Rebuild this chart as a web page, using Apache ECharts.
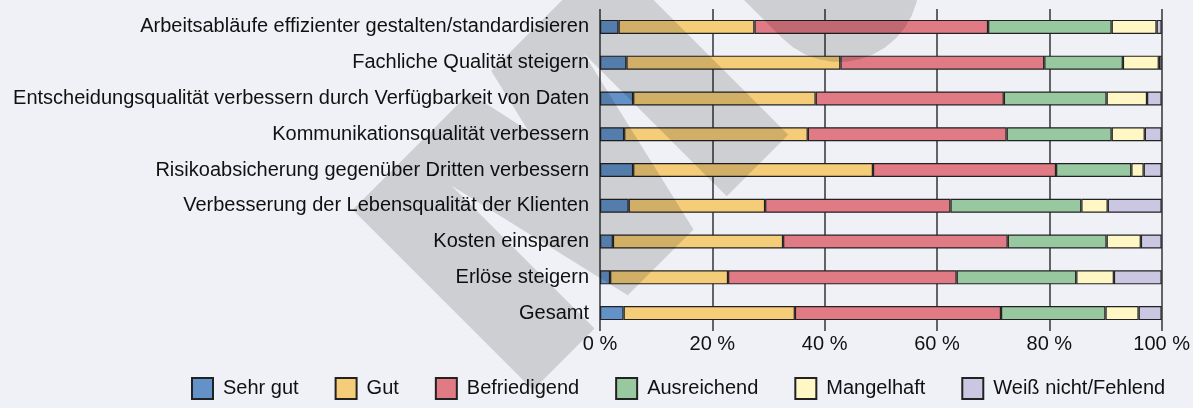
<!DOCTYPE html>
<html>
<head>
<meta charset="utf-8">
<script src="https://cdn.jsdelivr.net/npm/echarts@6/dist/echarts.min.js"></script>
<style>
  html, body { margin: 0; padding: 0; background: #eff1f6; }
  #chart { width: 1193px; height: 408px; }
</style>
</head>
<body>
<div id="chart"></div>
<script>
// Kategorien (von oben nach unten)
const categories = [
  'Arbeitsabläufe effizienter gestalten/standardisieren',
  'Fachliche Qualität steigern',
  'Entscheidungsqualität verbessern durch Verfügbarkeit von Daten',
  'Kommunikationsqualität verbessern',
  'Risikoabsicherung gegenüber Dritten verbessern',
  'Verbesserung der Lebensqualität der Klienten',
  'Kosten einsparen',
  'Erlöse steigern',
  'Gesamt'
];

// Anteile in Prozent, je Bewertung
const sehrGut      = [3.3, 4.7, 5.9, 4.3, 5.9, 5.1, 2.3, 1.8, 4.2];
const gut          = [24.2, 38.1, 32.5, 32.7, 42.7, 24.3, 30.3, 21.0, 30.5];
const befriedigend = [41.6, 36.3, 33.5, 35.4, 32.6, 33.0, 40.0, 40.7, 36.7];
const ausreichend  = [22.0, 14.0, 18.3, 18.7, 13.4, 23.3, 17.6, 21.3, 18.6];
const mangelhaft   = [8.0, 6.4, 7.2, 5.9, 2.2, 4.7, 6.1, 6.7, 5.9];
const weissNicht   = [0.9, 0.5, 2.6, 3.0, 3.2, 9.6, 3.7, 8.5, 4.1];

const seriesNames = ['Sehr gut', 'Gut', 'Befriedigend', 'Ausreichend', 'Mangelhaft', 'Weiß nicht/Fehlend'];
const seriesData = [sehrGut, gut, befriedigend, ausreichend, mangelhaft, weissNicht];
const seriesColors = ['#6292c8', '#f5cc78', '#e07b85', '#97c8a0', '#fff8c4', '#cbc6e1'];

// Achsenbeschriftung
const xTicks = [0, 20, 40, 60, 80, 100];

// Wasserzeichen (grosses, gedrehtes "MU"), Buchstaben-Koordinaten
const wmLetterM = [[0, 0], [87, 0], [87, 202], [134, 0], [227, 0], [274, 202], [274, 0], [361, 0],
  [361, 255], [196, 255], [180, 187], [165, 255], [0, 255]];
function wmLetterU() {
  const pts = [[425, 420], [425, 72]];
  for (let a = 180; a <= 360; a += 10) {
    const r = a * Math.PI / 180;
    pts.push([505 + 80 * Math.cos(r), 72 + 80 * Math.sin(r)]);
  }
  pts.push([585, 420]);
  return pts;
}
// Buchstaben-Koordinaten -> Pixel (um 45 Grad gedreht)
function wmToPx(pts) {
  const k = Math.SQRT1_2;
  return pts.map(p => [533 + k * (p[0] - p[1]), 390 - k * (p[0] + p[1])]);
}

const chart = echarts.init(document.getElementById('chart'));

const fontFamily = '"Liberation Sans", Arial, sans-serif';

const option = {
  backgroundColor: '#eff1f6',
  animation: false,
  textStyle: { fontFamily: fontFamily },
  grid: {
    left: 600,
    right: 29,
    top: 9,
    bottom: 77,
    containLabel: false
  },
  legend: {
    data: seriesNames,
    left: 186,
    top: 372,
    itemWidth: 21,
    itemHeight: 21,
    itemGap: 36,
    icon: 'rect',
    textStyle: {
      fontSize: 20,
      color: '#111',
      padding: [0, 0, 0, 5]
    }
  },
  xAxis: {
    type: 'value',
    min: 0,
    max: 100,
    interval: 20,
    axisLine: { show: false },
    axisTick: { show: false },
    axisLabel: {
      fontSize: 20,
      color: '#111',
      margin: 3,
      formatter: function (v) { return xTicks.indexOf(v) >= 0 ? v + ' %' : ''; }
    },
    splitLine: { show: true, lineStyle: { color: '#333', width: 1.5 } }
  },
  yAxis: {
    type: 'category',
    data: categories,
    inverse: true,
    axisLine: { show: false },
    axisTick: { show: false },
    axisLabel: { fontSize: 20, color: '#111', margin: 11 },
    splitLine: { show: false }
  },
  series: seriesNames.map((name, i) => ({
    name: name,
    type: 'bar',
    stack: 'total',
    barWidth: 14,
    data: seriesData[i],
    itemStyle: {
      color: seriesColors[i],
      borderColor: '#222',
      borderWidth: 1.2
    }
  })),
  graphic: [
    {
      type: 'polygon',
      z: 100,
      silent: true,
      shape: { points: wmToPx(wmLetterM) },
      style: { fill: 'rgba(0,0,0,0.14)' }
    },
    {
      type: 'polygon',
      z: 100,
      silent: true,
      shape: { points: wmToPx(wmLetterU()) },
      style: { fill: 'rgba(0,0,0,0.14)' }
    }
  ]
};

chart.setOption(option);
</script>
</body>
</html>
